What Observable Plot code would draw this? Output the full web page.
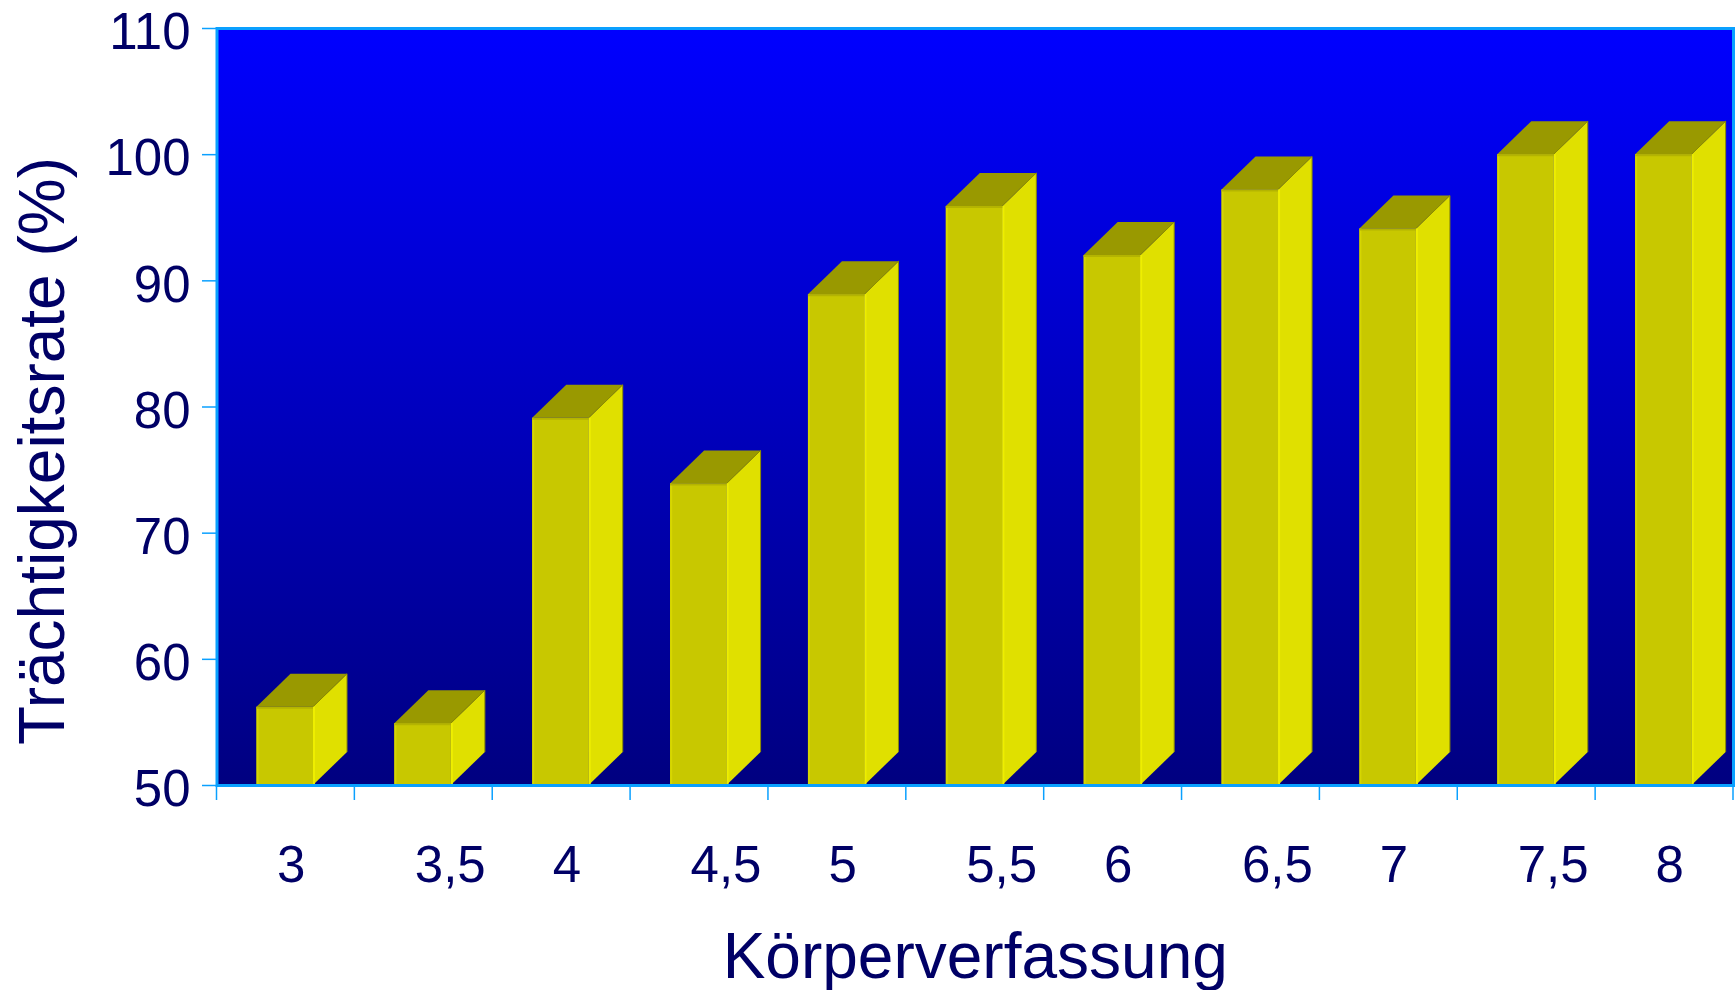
<!DOCTYPE html>
<html>
<head>
<meta charset="utf-8">
<script src="https://cdn.jsdelivr.net/npm/d3@7"></script>
<script src="https://cdn.jsdelivr.net/npm/@observablehq/plot@0.6"></script>
<style>
  html, body { margin: 0; padding: 0; background: #fff; }
  #chart svg { display: block; }
</style>
</head>
<body>
<div id="chart"></div>
<script>
// Body condition score (categories) and pregnancy rate in percent
const categories = ["3", "3,5", "4", "4,5", "5", "5,5", "6", "6,5", "7", "7,5", "8"];
const rates = [56.2, 54.9, 79.1, 73.9, 88.9, 95.9, 92.0, 97.2, 94.1, 100, 100];
const yTicks = [50, 60, 70, 80, 90, 100, 110];
const xTitle = "Körperverfassung";
const yTitle = "Trächtigkeitsrate (%)";

const data = categories.map((c, i) => ({c, v: rates[i]}));

// layout
const W = 1736, H = 990;
const M = {top: 28, right: 3, bottom: 205, left: 216.5};
const bw = (W - M.left - M.right) / categories.length;
const frontInset = 40, frontWidth = 56.5, depthX = 34, depthY = 33;
const base = 50;

// colours
const navy = "#000066";
const edge = "#0AA0FF";
const frontFill = "#C8C800", sideFill = "#E0E000", topFill = "#999900";
const font = "'Liberation Sans', Arial, Helvetica, sans-serif";

// plot background: vertical blue gradient
function background(index, scales, values, dim) {
  const g = d3.create("svg:g");
  const grad = g.append("defs").append("linearGradient")
    .attr("id", "bg-grad").attr("x1", 0).attr("y1", 0).attr("x2", 0).attr("y2", 1);
  grad.append("stop").attr("offset", "0%").attr("stop-color", "#0000FF");
  grad.append("stop").attr("offset", "100%").attr("stop-color", "#000080");
  g.append("rect")
    .attr("x", dim.marginLeft).attr("y", dim.marginTop)
    .attr("width", dim.width - dim.marginLeft - dim.marginRight)
    .attr("height", dim.height - dim.marginTop - dim.marginBottom)
    .attr("fill", "url(#bg-grad)");
  return g.node();
}

// right side and top of each column, plus edge highlights on the front
function columnDepth(index, {x, y}) {
  const g = d3.create("svg:g");
  const y0 = y(base);
  for (const d of data) {
    const xl = x(d.c) + frontInset, xr = xl + frontWidth, yt = y(d.v);
    g.append("polygon")
      .attr("points", [[xr, yt], [xr + depthX, yt - depthY], [xr + depthX, y0 - depthY], [xr, y0]].join(" "))
      .attr("fill", sideFill);
    g.append("polygon")
      .attr("points", [[xl, yt], [xl + depthX, yt - depthY], [xr + depthX, yt - depthY], [xr, yt]].join(" "))
      .attr("fill", topFill);
    g.append("polyline")
      .attr("points", [[xr, yt], [xr + depthX, yt - depthY], [xr + depthX, y0 - depthY]].join(" "))
      .attr("fill", "none").attr("stroke", "#8C8C00").attr("stroke-width", 1);
    g.append("line").attr("x1", xl + 1).attr("x2", xl + 1).attr("y1", yt).attr("y2", y0)
      .attr("stroke", "#D6D600").attr("stroke-width", 2);
    g.append("line").attr("x1", xr + 1).attr("x2", xr + 1).attr("y1", yt).attr("y2", y0)
      .attr("stroke", "#EEEE00").attr("stroke-width", 2);
    g.append("line").attr("x1", xl).attr("x2", xr).attr("y1", yt + 1).attr("y2", yt + 1)
      .attr("stroke", "#B4B400").attr("stroke-width", 2);
  }
  return g.node();
}

// x-axis ticks on the category boundaries
function xBoundaryTicks(index, {x, y}) {
  const g = d3.create("svg:g").attr("stroke", edge).attr("stroke-width", 1.5);
  const y0 = y(base);
  const edges = categories.map(c => x(c)).concat(x(categories[categories.length - 1]) + x.bandwidth());
  for (const px of edges) {
    g.append("line").attr("x1", px).attr("x2", px).attr("y1", y0).attr("y2", y0 + 15);
  }
  return g.node();
}

// rotated y-axis title
function yAxisTitle() {
  const t = d3.create("svg:text")
    .attr("transform", "translate(64,451) rotate(-90)")
    .attr("text-anchor", "middle")
    .attr("fill", navy)
    .attr("font-size", 64)
    .attr("font-family", font)
    .text(yTitle);
  return t.node();
}

const chart = Plot.plot({
  width: W,
  height: H,
  marginTop: M.top,
  marginRight: M.right,
  marginBottom: M.bottom,
  marginLeft: M.left,
  style: {fontFamily: font, background: "#fff", overflow: "visible"},
  x: {type: "band", domain: categories, padding: 0, round: false, axis: null},
  y: {domain: [50, 110]},
  marks: [
    background,
    Plot.barY(data, {
      x: "c", y1: base, y2: "v",
      fill: frontFill,
      insetLeft: frontInset,
      insetRight: bw - frontInset - frontWidth
    }),
    columnDepth,
    Plot.frame({stroke: edge, strokeWidth: 3}),
    // y tick lines
    Plot.axisY({
      ticks: yTicks,
      tickFormat: () => "",
      tickSize: 14.5,
      stroke: edge,
      strokeWidth: 1.5,
      label: null
    }),
    // y tick labels
    Plot.axisY({
      ticks: yTicks,
      tickFormat: d => String(d),
      tickSize: 0,
      tickPadding: 26.5,
      dy: 4.5,
      fontSize: 51,
      fill: navy,
      label: null
    }),
    xBoundaryTicks,
    Plot.text(data, {
      x: "c", text: "c",
      frameAnchor: "bottom",
      textAnchor: "start",
      lineAnchor: "bottom",
      dx: -9, dy: 96,
      fontSize: 51,
      fill: navy
    }),
    Plot.text([xTitle], {
      text: d => d,
      frameAnchor: "bottom",
      lineAnchor: "bottom",
      dy: 192,
      fontSize: 64,
      fill: navy
    }),
    yAxisTitle
  ]
});

document.getElementById("chart").append(chart);
</script>
</body>
</html>
